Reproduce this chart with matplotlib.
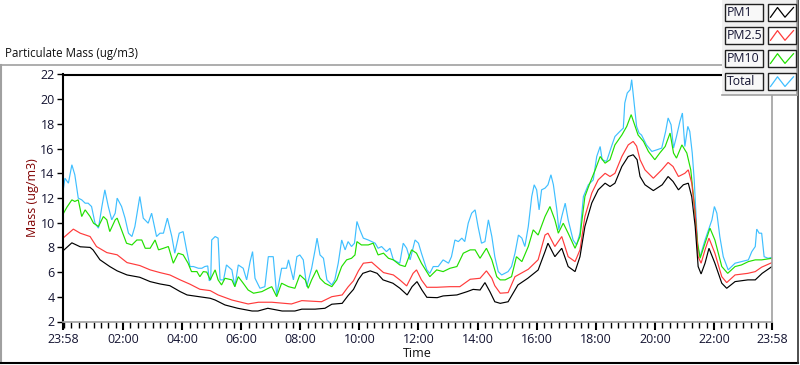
import matplotlib
matplotlib.use("Agg")
import matplotlib.pyplot as plt
from matplotlib.patches import Rectangle
from matplotlib.lines import Line2D

# ---------------- data (minutes since 23:58, mass ug/m3) ----------------
pm1_t = [0, 18, 35, 55, 61, 75, 95, 110, 130, 156, 177, 197, 217, 238, 252, 278, 299, 309, 329,
         355, 384, 396, 416, 445, 471, 485, 512, 532, 546, 567, 579, 590, 600, 609, 624, 638, 650,
         670, 684, 699, 709, 719, 729, 739, 760, 772, 800, 821, 833, 847, 857, 867, 877, 888, 904,
         924, 944, 965, 979, 985, 999, 1013, 1026, 1040, 1050, 1060, 1074, 1087, 1101, 1111, 1121,
         1135, 1148, 1158, 1166, 1172, 1182, 1199, 1217, 1229, 1239, 1250, 1260, 1270, 1277, 1284,
         1290, 1296, 1304, 1312, 1324, 1338, 1348, 1365, 1391, 1406, 1420, 1440]
pm1_v = [7.72, 8.37, 8.05, 8.0, 7.8, 7.0, 6.45, 6.1, 5.77, 5.58, 5.23, 5.04, 4.9, 4.42, 4.15, 4.0,
         3.88, 3.74, 3.34, 3.07, 2.85, 2.85, 3.07, 2.85, 2.85, 3.0, 3.0, 3.07, 3.4, 3.47, 4.1, 4.6,
         5.4, 5.9, 6.1, 5.9, 5.37, 5.1, 4.7, 4.15, 4.82, 5.23, 4.55, 3.96, 3.93, 4.07, 4.15, 4.42,
         4.6, 4.55, 5.15, 4.42, 3.6, 3.47, 3.6, 4.96, 5.5, 6.17, 7.66, 8.34, 7.25, 7.93, 6.45, 6.04,
         7.25, 9.69, 11.6, 12.66, 13.2, 12.93, 13.2, 14.55, 15.36, 15.5, 15.1, 13.74, 13.07, 12.6,
         13.07, 13.74, 13.34, 12.66, 13.07, 13.2, 12.1, 9.69, 6.45, 5.85, 6.72, 7.93, 6.72, 5.1,
         4.69, 5.23, 5.37, 5.37, 5.9, 6.45]

pm25_t = [0, 21, 35, 55, 68, 89, 110, 130, 156, 177, 197, 217, 238, 258, 278, 299, 315, 343, 376,
          397, 424, 464, 485, 525, 546, 567, 579, 590, 600, 610, 627, 637, 651, 671, 684, 698, 711,
          718, 728, 739, 759, 786, 806, 827, 847, 860, 871, 877, 888, 904, 918, 945, 965, 979, 985,
          999, 1013, 1026, 1040, 1050, 1060, 1074, 1087, 1101, 1111, 1121, 1135, 1148, 1158, 1165,
          1172, 1182, 1199, 1216, 1229, 1239, 1250, 1263, 1270, 1277, 1284, 1290, 1296, 1304, 1312,
          1324, 1338, 1348, 1365, 1391, 1406, 1419, 1440]
pm25_v = [8.75, 9.48, 9.15, 8.88, 8.07, 7.58, 7.4, 6.77, 6.53, 6.18, 5.96, 5.77, 5.37, 5.02, 4.61,
          4.5, 4.15, 3.74, 3.42, 3.56, 3.56, 3.42, 3.69, 3.6, 4.01, 4.15, 4.8, 5.3, 6.1, 6.72, 6.8,
          6.45, 5.96, 5.77, 5.37, 4.88, 5.9, 6.18, 5.37, 4.77, 4.77, 4.82, 4.82, 5.42, 5.5, 6.1, 5.5,
          4.9, 4.29, 4.34, 5.63, 6.23, 7.0, 9.0, 9.15, 8.07, 8.88, 7.25, 6.85, 7.8, 10.5, 12.4,
          13.47, 14.0, 13.74, 14.0, 15.36, 16.3, 16.58, 16.2, 15.1, 14.28, 13.6, 14.28, 14.88, 14.55,
          13.74, 14.0, 14.28, 13.2, 10.77, 7.25, 6.72, 7.8, 8.75, 7.53, 5.63, 5.15, 5.77, 5.9, 6.04,
          6.4, 6.77]

pm10_t = [0, 8, 18, 24, 31, 38, 45, 55, 62, 72, 82, 89, 95, 106, 110, 119, 129, 140, 150, 160, 167,
          177, 187, 194, 204, 214, 224, 234, 244, 254, 261, 272, 278, 285, 292, 299, 309, 315, 322,
          329, 343, 349, 356, 366, 376, 387, 404, 417, 424, 434, 444, 458, 471, 481, 492, 498, 505,
          515, 522, 532, 546, 556, 566, 576, 586, 593, 597, 606, 620, 630, 640, 651, 661, 671, 684,
          695, 708, 718, 728, 745, 759, 772, 786, 800, 813, 827, 837, 847, 860, 871, 881, 888, 898,
          911, 921, 932, 945, 955, 965, 979, 989, 999, 1006, 1016, 1026, 1040, 1050, 1060, 1070,
          1081, 1091, 1101, 1111, 1121, 1135, 1145, 1154, 1162, 1168, 1179, 1189, 1202, 1212, 1223,
          1233, 1240, 1246, 1257, 1267, 1275, 1282, 1289, 1294, 1304, 1314, 1324, 1338, 1350, 1365,
          1378, 1392, 1406, 1419, 1440]
pm10_v = [10.69, 11.26, 11.85, 11.72, 11.85, 10.5, 11.04, 10.5, 9.96, 9.69, 10.5, 10.23, 9.28,
          10.23, 10.37, 9.42, 8.34, 8.2, 8.6, 8.6, 7.93, 7.93, 8.6, 7.8, 7.93, 8.07, 6.72, 7.53, 7.4,
          6.72, 6.04, 6.04, 5.63, 6.04, 6.0, 5.37, 6.18, 5.37, 4.96, 5.5, 5.37, 4.82, 5.63, 5.1,
          4.55, 4.29, 4.42, 4.69, 4.82, 4.01, 5.1, 4.82, 4.69, 5.77, 5.37, 4.69, 5.37, 6.18, 5.5,
          5.1, 4.82, 5.37, 6.45, 6.99, 7.12, 7.39, 8.47, 8.2, 8.2, 8.34, 7.39, 7.53, 7.12, 6.99,
          6.58, 6.45, 7.8, 7.53, 6.72, 5.63, 6.18, 6.04, 6.31, 6.45, 7.53, 7.8, 7.8, 7.12, 7.93,
          6.99, 5.63, 5.37, 5.37, 5.63, 7.25, 6.85, 8.07, 9.42, 9.0, 10.5, 11.31, 10.23, 9.15, 9.96,
          9.15, 7.93, 8.88, 12.12, 13.2, 14.28, 15.36, 14.82, 15.1, 16.3, 17.1, 17.8, 18.75, 17.8,
          17.1, 16.58, 15.77, 15.1, 15.64, 16.17, 17.26, 15.64, 15.23, 16.3, 15.64, 14.28, 11.58,
          8.34, 7.12, 8.34, 9.56, 8.6, 6.45, 5.9, 6.45, 6.58, 6.85, 6.99, 6.99, 7.12]

total_t = [0, 4, 11, 18, 24, 31, 38, 45, 51, 58, 65, 72, 79, 85, 92, 99, 106, 110, 119, 126, 133,
           140, 146, 156, 163, 173, 180, 190, 197, 204, 212, 221, 227, 236, 244, 251, 258, 265, 275,
           282, 288, 294, 297, 300, 302, 309, 315, 319, 326, 332, 343, 349, 356, 366, 373, 380, 385,
           390, 400, 410, 417, 427, 434, 444, 454, 458, 468, 475, 481, 488, 495, 505, 512, 516, 522,
           529, 536, 546, 552, 559, 566, 573, 579, 586, 592, 597, 603, 610, 620, 634, 640, 647, 657,
           664, 671, 684, 691, 698, 705, 715, 722, 728, 739, 745, 752, 762, 772, 783, 789, 796, 803,
           810, 816, 823, 830, 837, 843, 850, 857, 864, 871, 877, 884, 891, 904, 911, 918, 925, 932,
           938, 945, 952, 957, 962, 967, 972, 979, 985, 991, 996, 1003, 1007, 1013, 1020, 1026, 1036,
           1043, 1050, 1057, 1067, 1077, 1084, 1091, 1095, 1104, 1114, 1121, 1131, 1138, 1141, 1146,
           1152, 1155, 1160, 1165, 1170, 1175, 1185, 1196, 1206, 1216, 1224, 1229, 1235, 1240, 1246,
           1253, 1258, 1263, 1269, 1273, 1278, 1282, 1289, 1294, 1304, 1311, 1318, 1323, 1328, 1334,
           1341, 1351, 1365, 1378, 1392, 1399, 1406, 1409, 1414, 1419, 1424, 1432, 1440]
total_v = [12.53, 13.6, 13.2, 14.69, 13.88, 11.99, 11.85, 11.58, 11.58, 11.31, 9.96, 9.56, 11.31,
           12.66, 11.31, 10.23, 10.77, 11.99, 11.31, 10.37, 9.15, 8.88, 9.69, 12.12, 10.37, 9.96,
           10.77, 8.88, 9.15, 9.15, 10.37, 8.88, 7.53, 9.15, 9.28, 7.8, 6.45, 6.45, 6.31, 6.31,
           6.45, 6.5, 5.3, 5.4, 8.6, 8.88, 8.75, 5.37, 5.37, 6.58, 6.18, 4.82, 6.58, 6.31, 5.37,
           6.85, 7.66, 5.5, 4.69, 4.82, 7.25, 7.25, 4.15, 6.31, 6.31, 6.99, 5.37, 7.25, 7.39, 6.99,
           4.82, 6.31, 7.8, 8.75, 7.39, 7.12, 5.37, 4.96, 5.37, 6.72, 8.6, 7.8, 8.47, 8.07, 8.34,
           10.1, 9.42, 8.75, 8.6, 8.34, 7.93, 8.07, 7.66, 7.93, 6.99, 6.72, 8.34, 7.93, 6.99, 8.6,
           8.34, 7.53, 6.18, 5.9, 6.45, 6.45, 6.99, 6.72, 7.25, 8.6, 8.47, 8.75, 8.47, 9.96, 10.77,
           11.04, 9.69, 8.34, 8.47, 10.23, 8.88, 7.25, 6.04, 5.77, 6.04, 6.45, 7.53, 9.0, 8.75, 8.07,
           9.69, 12.12, 13.07, 12.66, 11.04, 12.66, 12.8, 13.07, 13.88, 13.07, 11.04, 9.42, 10.5,
           11.58, 10.23, 8.6, 8.2, 9.15, 12.12, 13.07, 13.47, 15.36, 16.17, 15.1, 14.96, 16.17,
           16.98, 17.39, 17.66, 19.69, 20.5, 20.77, 21.58, 19.69, 17.8, 17.26, 17.1, 16.3, 15.77,
           15.9, 16.04, 17.39, 18.48, 17.93, 16.04, 16.98, 18.2, 18.88, 16.17, 17.8, 17.39, 15.64,
           13.47, 8.07, 7.25, 8.6, 9.42, 10.23, 11.31, 10.77, 8.88, 7.25, 6.18, 6.72, 6.85, 6.99,
           7.66, 8.07, 9.48, 9.15, 9.15, 7.25, 7.12, 7.2]

series_names = ["PM1", "PM2.5", "PM10", "Total"]
series_colors = ["#000000", "#ff3b3b", "#22e000", "#3fbfff"]

tick_minutes = [0, 122, 242, 362, 482, 602, 722, 842, 962, 1082, 1202, 1322, 1440]
tick_labels = ["23:58", "02:00", "04:00", "06:00", "08:00", "10:00", "12:00", "14:00",
               "16:00", "18:00", "20:00", "22:00", "23:58"]
minor_minutes = list(range(2, 1440, 15))
y_ticks = [2, 4, 6, 8, 10, 12, 14, 16, 18, 20, 22]

# ---------------- figure ----------------
FONT = "Open Sans"
TXT = "#141432"
W, H = 800, 365
fig = plt.figure(figsize=(W / 100, H / 100), dpi=100)
fig.patch.set_facecolor("white")


def fx(x):
    return x / W


def fy(y):
    return 1 - y / H


ax = fig.add_axes([fx(63), fy(321.5), fx(772) - fx(63), fy(74.5) - fy(321.5)])
ax.set_facecolor("white")

# draw order: Total, PM10, PM2.5, PM1 (PM1 on top)
all_t = [pm1_t, pm25_t, pm10_t, total_t]
all_v = [pm1_v, pm25_v, pm10_v, total_v]
for i in [3, 2, 1, 0]:
    ax.plot(all_t[i], all_v[i], color=series_colors[i], lw=0.85, solid_joinstyle="miter")

ax.set_xlim(0, 1440)
ax.set_ylim(2, 22)
ax.set_xticks(tick_minutes)
ax.set_xticklabels(tick_labels, fontfamily=FONT, fontsize=9, color=TXT)
ax.set_xticks(minor_minutes, minor=True)
ax.set_yticks(y_ticks)
ax.set_yticklabels([str(v) for v in y_ticks], fontfamily=FONT, fontsize=9, color=TXT)
ax.tick_params(axis="x", which="major", length=6, width=1.5, color="black", pad=2)
ax.tick_params(axis="x", which="minor", length=4, width=1, color="black")
ax.tick_params(axis="y", which="major", length=4, width=1, color="black", pad=2)

ax.spines["top"].set_color("black")
ax.spines["left"].set_color("black")
ax.spines["top"].set_linewidth(1.5)
ax.spines["left"].set_linewidth(1.5)
ax.spines["bottom"].set_color("#a0a0a0")
ax.spines["right"].set_color("#a0a0a0")
ax.spines["bottom"].set_linewidth(1.2)
ax.spines["right"].set_linewidth(1.2)

ax.set_xlabel("Time", fontfamily=FONT, fontsize=9, color="#101010", labelpad=1)
ax.set_ylabel("Mass (ug/m3)", fontfamily=FONT, fontsize=9, color="#800000", labelpad=1)

# ---------------- panel decorations ----------------
fig.text(fx(5), fy(54), "Particulate Mass (ug/m3)", fontfamily=FONT, fontsize=8.3,
         color="#101010", va="center", ha="left")
fig.add_artist(Line2D([fx(0), fx(722)], [fy(65), fy(65)], color="#a0a0a0", lw=1.2))
fig.add_artist(Line2D([fx(1), fx(1)], [fy(65), fy(363)], color="#a0a0a0", lw=1.5))
fig.add_artist(Line2D([fx(0), fx(798)], [fy(363), fy(363)], color="black", lw=1.5))
fig.add_artist(Line2D([fx(797.5), fx(797.5)], [fy(0), fy(363)], color="#303030", lw=1.2))

# legend panel
fig.add_artist(Rectangle((fx(722), fy(95)), fx(797) - fx(722), fy(0) - fy(95),
                         facecolor="#f0f0f0", edgecolor="none", zorder=5))
fig.add_artist(Line2D([fx(722), fx(797)], [fy(95), fy(95)], color="#a0a0a0", lw=1.2, zorder=6))
fig.add_artist(Line2D([fx(797), fx(797)], [fy(0), fy(95)], color="#a0a0a0", lw=1.2, zorder=6))

for i, (name, col) in enumerate(zip(series_names, series_colors)):
    top = 4 + i * 23.1
    bot = top + 16.7
    fig.add_artist(Rectangle((fx(725), fy(bot)), fx(763) - fx(725), fy(top) - fy(bot),
                             facecolor="#f8f8f8", edgecolor="#202020", lw=1.0, zorder=7))
    fig.text(fx(727), fy((top + bot) / 2), name, fontfamily=FONT, fontsize=8.8,
             color=TXT, va="center", ha="left", zorder=8)
    fig.add_artist(Rectangle((fx(768), fy(bot)), fx(796) - fx(768), fy(top) - fy(bot),
                             facecolor="white", edgecolor="#202020", lw=1.0, zorder=7))
    fig.add_artist(Line2D([fx(770.5), fx(777.5), fx(785), fx(793.5)],
                          [fy(bot - 3.5), fy(top + 3.5), fy(bot - 3.5), fy(top + 3.5)],
                          color=col, lw=0.9, zorder=8))

fig.savefig("out.png", dpi=100, facecolor="white")
